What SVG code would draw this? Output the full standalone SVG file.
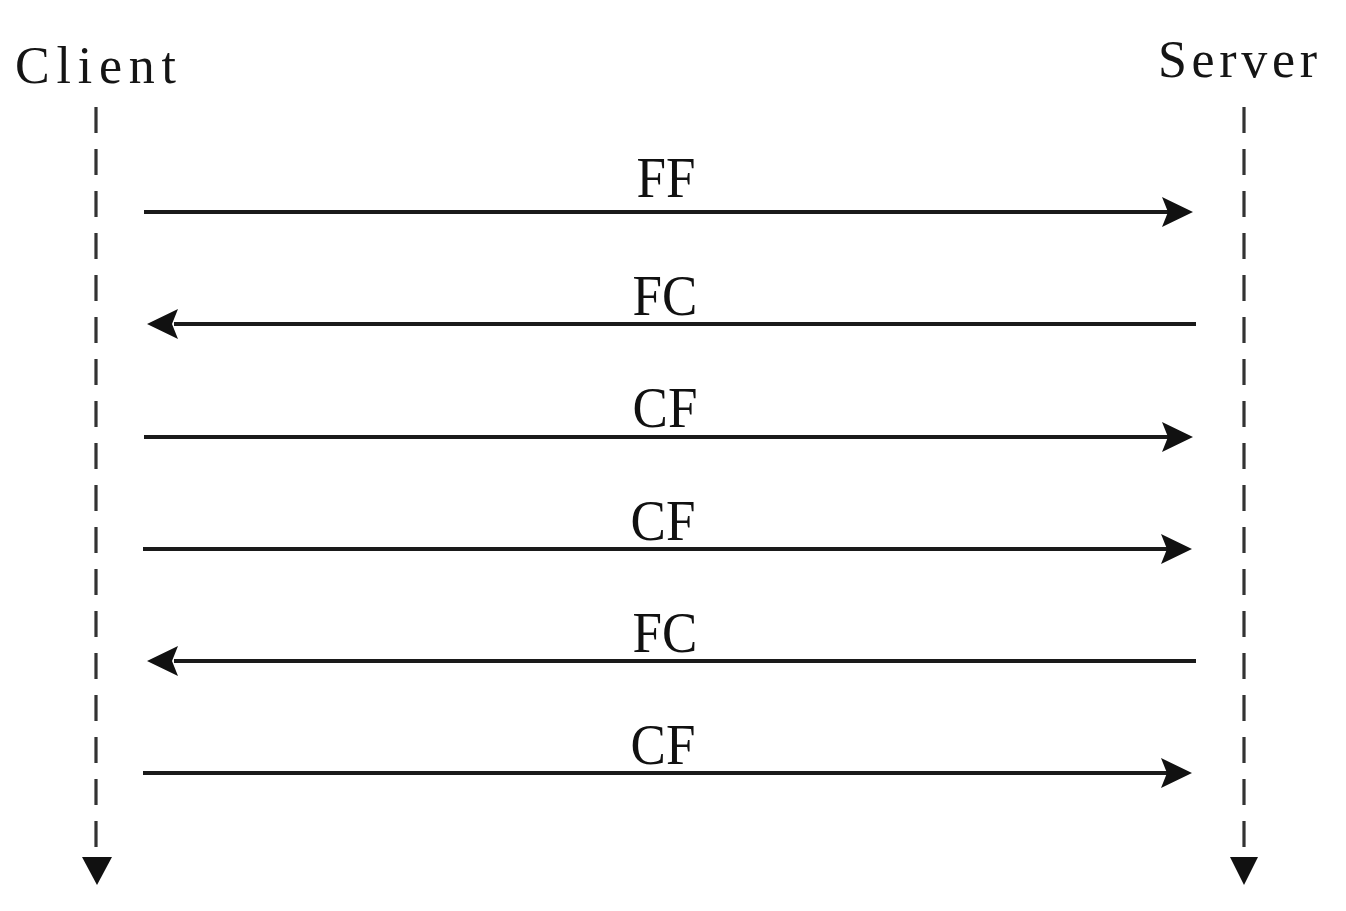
<svg xmlns="http://www.w3.org/2000/svg" width="1346" height="911" viewBox="0 0 1346 911">
<style>
.actor{font-family:"Liberation Serif","Times New Roman",serif;font-size:52px;fill:#151515}
.lbl{font-family:"Liberation Serif","Times New Roman",serif;font-size:53px;fill:#111;text-anchor:middle}
.life{stroke:#333;stroke-width:3.2;stroke-dasharray:26 16;fill:none}
.msg{stroke:#1a1a1a;stroke-width:4;fill:none}
.head{fill:#111}
</style>
<defs>
<path id="hr" d="M0,0 L-31,-15 L-25,0 L-31,15 Z"/>
<path id="hl" d="M0,0 L31,-15 L25,0 L31,15 Z"/>
</defs>
<rect width="1346" height="911" fill="#fff"/>
<g id="client">
<text class="actor" x="15" y="83" textLength="161" lengthAdjust="spacing">Client</text>
<line class="life" x1="96" y1="107" x2="96" y2="850"/>
<polygon class="head" points="82,857 112,857 97,885"/>
</g>
<g id="server">
<text class="actor" x="1158" y="77" textLength="159" lengthAdjust="spacing">Server</text>
<line class="life" x1="1244" y1="107" x2="1244" y2="850"/>
<polygon class="head" points="1230,857 1258,857 1244,885"/>
</g>
<g id="connectors">
<g id="m1">
<line class="msg" x1="144" y1="212" x2="1180" y2="212"/>
<use href="#hr" class="head" x="1193" y="212"/>
<text class="lbl" transform="translate(666,197) scale(1,1.09)">FF</text>
</g>
<g id="m2">
<line class="msg" x1="174" y1="324" x2="1196" y2="324"/>
<use href="#hl" class="head" x="147" y="324"/>
<text class="lbl" transform="translate(665,315) scale(1,1.09)">FC</text>
</g>
<g id="m3">
<line class="msg" x1="144" y1="437" x2="1180" y2="437"/>
<use href="#hr" class="head" x="1193" y="437"/>
<text class="lbl" transform="translate(665,427) scale(1,1.09)">CF</text>
</g>
<g id="m4">
<line class="msg" x1="143" y1="549" x2="1179" y2="549"/>
<use href="#hr" class="head" x="1192" y="549"/>
<text class="lbl" transform="translate(663,540) scale(1,1.09)">CF</text>
</g>
<g id="m5">
<line class="msg" x1="174" y1="661" x2="1196" y2="661"/>
<use href="#hl" class="head" x="147" y="661"/>
<text class="lbl" transform="translate(665,652) scale(1,1.09)">FC</text>
</g>
<g id="m6">
<line class="msg" x1="143" y1="773" x2="1179" y2="773"/>
<use href="#hr" class="head" x="1192" y="773"/>
<text class="lbl" transform="translate(663,764) scale(1,1.09)">CF</text>
</g>
</g>
</svg>
